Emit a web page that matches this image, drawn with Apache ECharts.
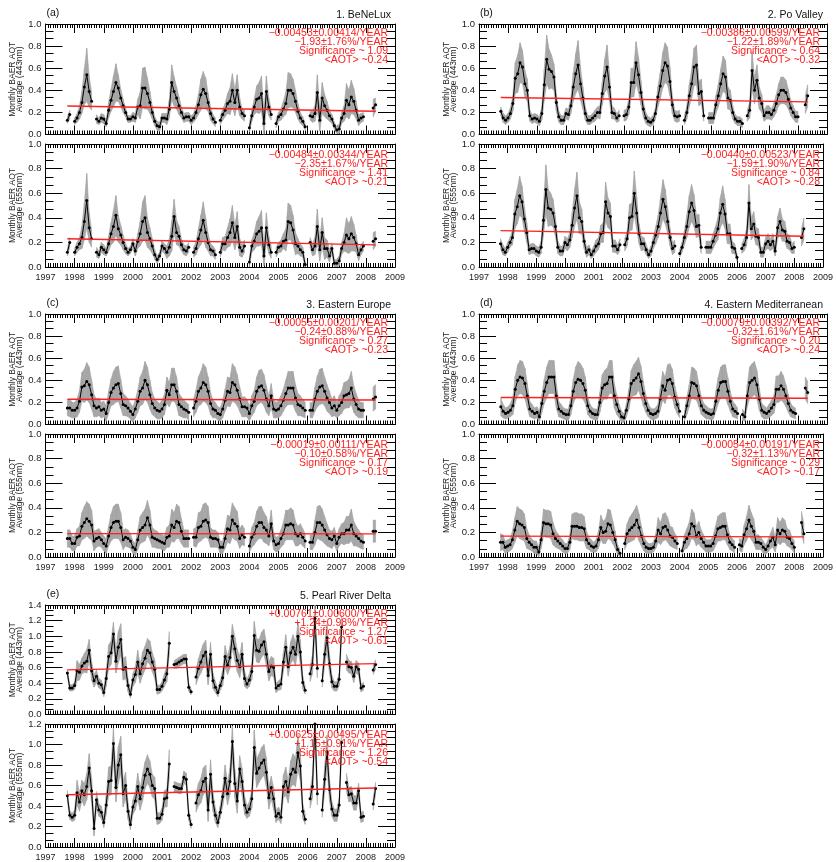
<!DOCTYPE html>
<html><head><meta charset="utf-8">
<script src="https://cdn.jsdelivr.net/npm/echarts/dist/echarts.min.js"></script>
<style>html,body{margin:0;padding:0;background:#fff}#c{width:836px;height:862px}</style>
</head><body><div id="c"></div>
<script>
const n = null;
// record: monthly, Oct 1997 .. May 2008 (128 months)
const firstYear = 1997, firstMonth = 10;
const axisYears = [1997, 2009];

// ---------- 1. BeNeLux ----------
const benelux443 = [
 .13,.18,n,
 .12,.15,.20,.29,.43,.54,.39,.30,n,.14,.12,.15,
 .14,.10,.22,.31,.39,.47,.42,.33,.26,.20,.14,.14,
 .16,.15,.25,.26,.42,.42,.37,.29,.20,.12,.08,.07,
 .15,.15,.14,.23,.47,.39,.33,.26,.20,.15,.16,.16,
 .13,.15,.20,.27,.36,.41,.37,.29,.19,.14,.11,n,
 .13,.18,.22,.28,.30,.40,.29,.40,.25,.19,.17,n,
 .06,.17,.25,.32,.33,.37,.10,.39,.25,.18,n,.10,
 .16,.18,.23,.28,.40,.40,.37,.30,.21,.15,.12,.07,
 n,.17,.16,.19,.38,.13,.33,.26,.22,.17,.14,.08,
 .04,.05,.15,.19,.31,.27,.34,.30,.22,.13,.15,.16,
 n,n,n,.24,.27];
const beneluxStd443 = [
 .03,.04,n,
 .03,.04,.06,.10,.16,.24,.14,.08,n,.04,.03,.04,
 .04,.03,.07,.10,.14,.17,.12,.08,.06,.04,.03,.03,
 .04,.04,.07,.12,.18,.19,.14,.10,.06,.04,.04,.04,
 .04,.04,.05,.08,.16,.13,.10,.08,.05,.04,.04,.04,
 .04,.04,.06,.09,.14,.16,.14,.08,.06,.04,.04,n,
 .04,.05,.06,.09,.12,.15,.12,.14,.08,.05,.05,n,
 .04,.05,.07,.12,.14,.16,.10,.14,.08,.05,n,.04,
 .04,.05,.07,.10,.16,.15,.13,.10,.07,.05,.04,.03,
 n,.04,.05,.07,.16,.10,.14,.10,.08,.05,.04,.03,
 .03,.04,.05,.07,.15,.13,.15,.12,.08,.05,.04,.04,
 n,n,n,.08,.06];
const benelux555 = [
 .12,.20,n,
 .12,.16,.19,.24,.37,.54,.32,.23,n,.12,.10,.16,
 .14,.12,.19,.27,.33,.42,.31,.26,.20,.15,.12,.14,
 .19,.13,.21,.27,.37,.40,.28,.23,.17,.10,.06,.09,
 .17,.15,.12,.16,.25,.41,.28,.25,.18,.14,.13,.16,
 n,.12,.15,.23,.30,.38,.28,.20,.14,.13,.10,n,
 .12,.19,.19,.24,.28,.36,.24,.33,.16,.13,.17,n,
 .04,.17,.21,.27,.29,.32,.09,.32,.18,.12,n,.12,
 .16,.17,.21,.22,.37,.36,.30,.19,.17,.14,.12,.02,
 n,.20,.14,.17,.33,.14,.28,.15,.15,.09,.15,.03,
 .03,.05,.15,.20,.26,.23,.27,.24,.19,.10,.14,.17,
 n,n,n,.21,.23];
const beneluxStd555 = [
 .03,.04,n,
 .03,.04,.05,.09,.15,.22,.12,.07,n,.04,.03,.04,
 .04,.03,.06,.09,.13,.16,.11,.08,.06,.04,.03,.03,
 .04,.04,.06,.10,.16,.18,.12,.09,.06,.04,.03,.03,
 .04,.04,.05,.07,.12,.14,.10,.08,.05,.04,.04,.04,
 n,.04,.05,.08,.12,.15,.12,.07,.05,.04,.04,n,
 .04,.05,.06,.08,.11,.14,.10,.12,.07,.05,.05,n,
 .04,.05,.07,.10,.12,.14,.08,.12,.07,.05,n,.04,
 .04,.05,.06,.09,.15,.14,.12,.09,.06,.05,.04,.03,
 n,.04,.05,.07,.14,.09,.12,.09,.07,.05,.04,.03,
 .03,.04,.05,.07,.14,.12,.14,.11,.07,.05,.04,.04,
 n,n,n,.07,.06];

// ---------- 2. Po Valley ----------
const po443 = [
 .21,.15,.13,
 .15,.19,.28,.51,.55,.65,.61,.46,.40,.17,.14,.15,
 .14,.12,.19,.45,.68,.59,.57,.52,.29,.16,.13,.13,
 .19,.18,.26,.43,.55,.63,.46,.33,.19,.13,.13,.15,
 .17,.20,.20,.37,.53,.61,.43,.20,.19,.15,.17,n,
 .17,.18,.25,.47,.47,.65,.54,.38,.23,.15,.12,.11,
 .13,.19,.34,.44,.58,.65,.62,.48,.27,.17,.16,.17,
 n,.13,.20,.35,.46,.61,.63,.37,.39,.17,n,.15,
 .15,.15,.27,.35,.46,.55,.52,.33,.31,.20,.14,.12,
 .12,.10,n,.17,.22,.58,.40,.49,.33,.28,.17,.20,
 .20,.18,.22,.28,.36,.40,.40,.38,.32,.24,.20,.16,
 .16,n,n,.27,.35];
const poStd443 = [
 .04,.04,.04,
 .04,.05,.07,.14,.17,.18,.15,.12,.10,.05,.04,.04,
 .04,.04,.06,.14,.22,.18,.15,.12,.08,.05,.04,.04,
 .05,.05,.07,.13,.18,.22,.15,.10,.06,.04,.04,.04,
 .05,.05,.06,.10,.15,.20,.13,.06,.05,.04,.05,n,
 .05,.05,.07,.13,.13,.19,.16,.11,.07,.05,.04,.04,
 .04,.05,.09,.12,.16,.18,.17,.13,.08,.05,.05,.05,
 n,.04,.06,.10,.13,.17,.18,.11,.11,.05,n,.05,
 .05,.05,.08,.10,.13,.16,.15,.10,.09,.06,.04,.04,
 .04,.04,n,.05,.07,.17,.12,.14,.10,.08,.05,.06,
 .06,.05,.06,.08,.10,.12,.12,.11,.09,.07,.06,.05,
 .05,n,n,.08,.10];
const po555 = [
 .19,.14,.12,
 .16,.20,.24,.43,.49,.58,.53,.39,.28,.14,.15,.15,
 .13,.12,.16,.38,.63,.48,.47,.44,.33,.16,.13,.13,
 .20,.18,.22,.34,.48,.58,.40,.37,.21,.12,.14,.10,
 .13,.17,.19,.27,.28,.53,.44,.41,.17,.17,.14,.18,
 n,.18,.23,.40,.41,.60,.44,.27,.19,.19,.14,.10,
 .13,.20,.26,.33,.44,.55,.49,.37,.24,.15,.17,n,
 .11,.16,.24,.33,.45,.52,.46,.33,.34,.16,n,.16,
 .16,.16,.21,.26,.31,.44,.51,.43,.27,.27,.16,.15,
 .08,n,.15,.18,.24,.52,.31,.35,.25,.24,.12,.12,
 .19,.21,.18,.21,.13,.32,.37,.30,.29,.21,.20,.15,
 .16,n,n,.24,.31];
const poStd555 = [
 .04,.04,.03,
 .04,.04,.06,.12,.14,.16,.13,.10,.08,.04,.04,.04,
 .04,.04,.05,.12,.20,.15,.13,.11,.08,.05,.04,.04,
 .05,.05,.06,.10,.15,.19,.13,.10,.06,.04,.04,.03,
 .04,.05,.05,.07,.08,.16,.12,.11,.05,.05,.04,.05,
 n,.05,.06,.11,.11,.18,.13,.08,.06,.05,.04,.03,
 .04,.05,.07,.09,.13,.16,.14,.10,.07,.05,.05,n,
 .03,.04,.06,.09,.13,.15,.13,.09,.09,.05,n,.05,
 .05,.05,.06,.07,.09,.12,.15,.12,.08,.08,.05,.04,
 .03,n,.04,.05,.07,.15,.09,.10,.07,.07,.04,.04,
 .05,.06,.05,.06,.04,.09,.11,.09,.08,.06,.06,.04,
 .05,n,n,.07,.09];

// ---------- 3. Eastern Europe ----------
const eeur443 = [
 .15,.15,.13,
 .13,.15,.21,.34,.35,.39,.36,.27,.17,.15,.16,.13,
 .14,.10,.20,.29,.33,.36,.37,.28,.18,.17,.15,.12,
 .09,.14,.21,.30,.33,.40,.36,.27,.19,.15,.13,.12,
 .14,.18,.31,.27,.36,.36,.30,.18,.16,.14,.13,.11,
 n,.15,.21,.30,.33,.38,.36,.30,.19,.14,.13,.10,
 .09,.14,.22,.30,.29,.38,.36,.31,.23,.16,.16,.15,
 .10,.17,.21,.30,.34,.35,.31,.23,.17,.26,.14,.13,
 .14,.17,.22,.28,.33,.33,.33,.24,.18,.17,.15,.13,
 n,.13,.13,.23,.30,.34,.35,.30,.24,.20,.15,.17,
 .13,.17,.20,.26,.27,.28,.33,.23,.18,.14,.13,.13,
 n,n,n,.23,.25];
const eeurStd443 = [
 .07,.08,.07,
 .07,.08,.10,.13,.15,.17,.16,.13,.10,.08,.08,.07,
 .07,.07,.10,.12,.15,.16,.16,.13,.10,.09,.08,.07,
 .07,.08,.10,.13,.15,.17,.16,.13,.10,.08,.08,.07,
 .08,.09,.12,.11,.15,.15,.13,.10,.09,.08,.07,.07,
 n,.08,.10,.13,.15,.17,.16,.13,.10,.08,.07,.06,
 .06,.08,.10,.13,.13,.17,.16,.14,.11,.09,.09,.08,
 .07,.09,.10,.13,.15,.15,.14,.12,.09,.11,.08,.07,
 .08,.09,.10,.12,.15,.15,.15,.12,.10,.09,.08,.07,
 n,.07,.07,.11,.14,.16,.16,.13,.12,.10,.08,.09,
 .07,.09,.10,.12,.12,.13,.15,.12,.10,.08,.07,.07,
 n,n,n,.11,.11];
const eeur555 = [
 .15,.15,.11,
 .11,.16,.17,.25,.28,.31,.29,.26,.13,.15,.16,.14,
 .11,.09,.17,.24,.28,.29,.29,.24,.14,.16,.15,.13,
 .08,.06,.14,.22,.24,.26,.32,.26,.16,.15,.14,.13,
 .12,.11,.16,.17,.26,.24,.29,.28,.21,.15,.15,.15,
 n,.16,.16,.24,.25,.29,.30,.28,.16,.15,.15,.14,
 .08,.08,.15,.23,.22,.30,.27,.25,.15,.18,.16,n,
 .09,.16,.19,.25,.28,.28,.24,.22,.17,.27,.13,.10,
 .11,.15,.19,.26,.26,.27,.26,.19,.17,.19,.16,.13,
 n,.12,.12,.20,.28,.28,.26,.22,.18,.15,.14,.17,
 .11,.16,.19,.19,.22,.22,.26,.19,.17,.15,.13,.12,
 n,n,n,.21,.21];
const eeurStd555 = [
 .07,.07,.06,
 .06,.07,.08,.11,.13,.14,.14,.12,.08,.07,.07,.06,
 .06,.06,.08,.11,.13,.14,.14,.12,.08,.07,.07,.06,
 .05,.05,.08,.11,.12,.13,.14,.12,.08,.07,.07,.06,
 .06,.06,.08,.09,.13,.12,.14,.13,.10,.07,.07,.07,
 n,.07,.08,.12,.12,.14,.14,.13,.08,.07,.07,.06,
 .05,.05,.08,.11,.11,.14,.13,.12,.08,.08,.07,n,
 .05,.08,.09,.12,.13,.13,.12,.11,.08,.11,.07,.06,
 .06,.07,.09,.12,.12,.13,.12,.10,.08,.08,.07,.06,
 n,.06,.06,.10,.13,.14,.13,.11,.09,.07,.07,.07,
 .06,.07,.08,.09,.11,.11,.13,.10,.08,.07,.06,.06,
 n,n,n,.09,.09];

// ---------- 4. Eastern Mediterranean ----------
const emed443 = [
 .16,.12,.10,
 .11,.13,.17,.32,.40,.43,.42,.37,.26,.14,.12,.10,
 .11,.07,.19,.30,.38,.43,.43,.43,.26,.14,.12,.10,
 .09,.09,.17,.30,.38,.41,.40,.37,.31,.17,.12,.10,
 .09,.09,.20,.33,.36,.37,.43,.43,.26,.18,.12,.07,
 .06,.13,.23,.37,.40,.42,.46,.39,.28,.19,.13,.10,
 .09,.10,.12,.23,.35,.31,.40,.41,.37,.25,.18,.12,
 n,.07,.17,.26,.38,.37,.35,.26,.17,.13,.11,.10,
 .09,.10,.21,.31,.38,.39,.39,.30,.21,.14,.12,.10,
 n,.09,.07,.26,.38,.40,.42,.36,.23,.13,.11,.10,
 .12,.15,.18,.32,.32,.35,.32,.26,.19,.13,.11,.10,
 n,n,n,.33,.29];
const emedStd443 = [
 .08,.06,.05,
 .05,.06,.08,.12,.14,.15,.15,.14,.11,.07,.06,.05,
 .05,.05,.08,.11,.14,.15,.15,.15,.11,.07,.06,.05,
 .05,.05,.08,.11,.14,.16,.15,.14,.12,.08,.06,.05,
 .05,.05,.09,.12,.13,.14,.15,.15,.11,.09,.06,.05,
 .04,.06,.09,.12,.14,.15,.15,.14,.11,.08,.06,.05,
 .05,.05,.06,.10,.13,.12,.14,.14,.13,.10,.08,.06,
 n,.04,.08,.10,.14,.14,.13,.10,.08,.06,.06,.05,
 .05,.05,.09,.12,.14,.15,.15,.12,.09,.07,.06,.05,
 n,.05,.04,.10,.14,.15,.15,.13,.10,.06,.06,.05,
 .06,.07,.08,.12,.12,.13,.12,.10,.08,.06,.05,.05,
 n,n,n,.10,.10];
const emed555 = [
 .12,.12,.08,
 .09,.10,.14,.22,.29,.27,.26,.24,.15,.12,.10,.08,
 .08,.04,.14,.28,.27,.27,.26,.19,.15,.13,.11,.09,
 .07,.07,.12,.25,.25,.25,.24,.24,.23,.14,.11,.09,
 .08,.09,.14,.24,.20,.21,.27,.26,.20,.14,.06,.03,
 n,.11,.19,.22,.24,.26,.30,.24,.17,.11,.08,.07,
 .07,.08,.13,.22,.19,.24,.25,.22,.17,.16,.13,.11,
 n,.05,.12,.15,.19,.27,.25,.17,.20,.15,.12,.09,
 .09,.09,.11,.17,.23,.24,.25,.25,.18,.12,.10,.08,
 n,.10,.09,.18,.23,.30,.25,.21,.12,.12,.11,.08,
 .06,.09,.13,.16,.10,.22,.19,.22,.21,.16,.15,.11,
 .08,n,n,.28,.19];
const emedStd555 = [
 .07,.06,.05,
 .05,.05,.07,.10,.12,.12,.12,.11,.08,.06,.05,.05,
 .05,.04,.07,.11,.11,.11,.11,.09,.07,.06,.05,.05,
 .04,.04,.06,.10,.11,.11,.11,.11,.10,.07,.05,.05,
 .04,.05,.07,.10,.09,.10,.12,.12,.09,.07,.04,.03,
 n,.05,.08,.10,.11,.12,.12,.11,.08,.06,.05,.04,
 .04,.04,.06,.10,.09,.11,.11,.10,.08,.08,.06,.05,
 n,.03,.06,.08,.09,.12,.11,.08,.09,.07,.06,.05,
 .05,.05,.06,.08,.10,.11,.11,.11,.08,.06,.05,.05,
 n,.05,.05,.08,.10,.12,.11,.10,.06,.06,.05,.05,
 .04,.05,.06,.08,.06,.10,.09,.10,.09,.07,.07,.05,
 .05,n,n,.09,.08];

// ---------- 5. Pearl River Delta ----------
const prd443 = [
 .53,.34,.34,
 .37,.56,.54,.62,.66,.68,.82,.56,.43,.49,.40,.38,
 .28,.46,.74,.79,1.03,.68,.86,.96,.58,.60,.37,.26,
 .44,.51,.67,.52,.65,.72,.82,.79,.67,.58,.32,.32,
 .36,.44,.52,.91,n,.64,.65,.67,.69,.71,.71,.35,
 .29,n,.48,.59,.67,.75,.80,.50,.77,.43,.35,.28,
 .37,.47,.74,.63,.73,1.00,.84,.69,.61,.77,.46,.39,
 .44,.55,1.01,.82,.81,.89,.93,.77,.55,.62,.60,.34,
 .37,.39,.67,.86,.61,.79,.86,.77,1.00,.80,.41,.31,
 n,.52,.64,1.23,.59,n,.43,.77,.98,.65,.42,.36,
 .36,.45,1.12,n,.67,.61,.60,.49,.61,.58,.34,.36,
 n,n,n,.57,.64];
const prdStd443 = [
 .05,.04,.04,
 .05,.13,.10,.10,.12,.15,.14,.12,.08,.08,.06,.06,
 .05,.10,.15,.15,.15,.15,.20,.20,.14,.14,.08,.05,
 .08,.10,.15,.12,.15,.15,.15,.15,.12,.12,.06,.05,
 .06,.08,.10,.15,n,.05,.06,.06,.06,.06,.06,.05,
 .04,n,.10,.12,.14,.15,.15,.12,.15,.10,.07,.05,
 .06,.10,.14,.12,.14,.15,.15,.14,.14,.15,.10,.06,
 .08,.10,.18,.15,.15,.16,.16,.15,.12,.12,.12,.06,
 .06,.07,.12,.16,.12,.14,.16,.15,.18,.15,.08,.05,
 n,.10,.12,.18,.12,n,.08,.14,.17,.12,.08,.06,
 .06,.08,.15,n,.10,.08,.08,.08,.08,.08,.05,.05,
 n,n,n,.06,.06];
const prd555 = [
 .50,.31,.29,
 .31,.53,.44,.55,.51,.59,.77,.55,.18,.46,.36,.34,
 .24,.41,.64,.65,1.01,.58,.80,.90,.52,.60,.35,.22,
 .39,.45,.59,.47,.58,.70,.76,.71,.60,.57,.28,.28,
 .32,.47,.48,.81,n,.59,.58,.57,.57,.68,.66,.31,
 .22,n,.43,.51,.55,.64,.67,.36,.71,.44,.31,.24,
 .34,.49,.67,.52,.64,1.03,.62,.45,.76,.64,.41,.34,
 .37,.47,.97,.72,.77,.82,.85,.73,.48,.58,.47,.30,
 .33,.29,.59,.64,.54,.71,.76,.73,.92,.79,.35,.27,
 n,.47,.59,1.20,.52,n,.36,.66,.93,.56,.37,.31,
 .31,.41,1.02,n,.63,.51,.52,.43,.43,.55,.29,.30,
 n,n,n,.42,.57];
const prdStd555 = [
 .05,.04,.04,
 .05,.12,.09,.10,.11,.13,.14,.12,.07,.08,.06,.06,
 .05,.09,.14,.14,.15,.14,.18,.18,.13,.13,.08,.05,
 .07,.09,.13,.11,.13,.13,.14,.13,.11,.11,.06,.05,
 .06,.08,.09,.14,n,.05,.05,.05,.05,.06,.06,.05,
 .04,n,.09,.11,.12,.13,.13,.11,.14,.09,.07,.05,
 .06,.09,.13,.11,.13,.15,.14,.12,.13,.13,.09,.06,
 .07,.09,.17,.14,.14,.15,.15,.14,.11,.11,.11,.06,
 .06,.06,.11,.14,.11,.13,.15,.14,.17,.14,.07,.05,
 n,.09,.11,.16,.11,n,.07,.13,.16,.11,.07,.06,
 .06,.07,.14,n,.09,.07,.07,.07,.07,.07,.05,.05,
 n,n,n,.06,.06];

// trend line end values [first month, last month]
const trendBenelux443 = [0.258, 0.210], trendBenelux555 = [0.230, 0.180];
const trendPo443 = [0.335, 0.295], trendPo555 = [0.296, 0.250];
const trendEeur443 = [0.228, 0.222], trendEeur555 = [0.190, 0.188];
const trendEmed443 = [0.245, 0.237], trendEmed555 = [0.170, 0.164];
const trendPrd443 = [0.570, 0.650], trendPrd555 = [0.510, 0.576];

const textBenelux443 = ['\u22120.00453\u00b10.00414/YEAR','\u22121.93\u00b11.76%/YEAR','Significance ~ 1.09','<AOT> ~0.24'];
const textBenelux555 = ['\u22120.00484\u00b10.00344/YEAR','\u22122.35\u00b11.67%/YEAR','Significance ~ 1.41','<AOT> ~0.21'];
const textPo443 = ['\u22120.00386\u00b10.00599/YEAR','\u22121.22\u00b11.89%/YEAR','Significance ~ 0.64','<AOT> ~0.32'];
const textPo555 = ['\u22120.00440\u00b10.00523/YEAR','\u22121.59\u00b11.90%/YEAR','Significance ~ 0.84','<AOT> ~0.28'];
const textEeur443 = ['\u22120.00055\u00b10.00201/YEAR','\u22120.24\u00b10.88%/YEAR','Significance ~ 0.27','<AOT> ~0.23'];
const textEeur555 = ['\u22120.00019\u00b10.00111/YEAR','\u22120.10\u00b10.58%/YEAR','Significance ~ 0.17','<AOT> ~0.19'];
const textEmed443 = ['\u22120.00079\u00b10.00392/YEAR','\u22120.32\u00b11.61%/YEAR','Significance ~ 0.20','<AOT> ~0.24'];
const textEmed555 = ['\u22120.00054\u00b10.00191/YEAR','\u22120.32\u00b11.13%/YEAR','Significance ~ 0.29','<AOT> ~0.17'];
const textPrd443 = ['+0.00761\u00b10.00600/YEAR','+1.24\u00b10.98%/YEAR','Significance ~ 1.27','<AOT> ~0.61'];
const textPrd555 = ['+0.00625\u00b10.00495/YEAR','+1.15\u00b10.91%/YEAR','Significance ~ 1.26','<AOT> ~0.54'];

const regionTitles = ['1. BeNeLux','2. Po Valley','3. Eastern Europe','4. Eastern Mediterranean','5. Pearl River Delta'];
const panelLetters = ['(a)','(b)','(c)','(d)','(e)'];
const yName443 = 'Monthly BAER AOT\nAverage (443nm)';
const yName555 = 'Monthly BAER AOT\nAverage (555nm)';

// ---------- layout ----------
const cols = [{left:45.5, width:349.5}, {left:479, width:348}];
const rows = [{top1:24, h1:110.5, top2:144, h2:123}, {top1:314, h1:110.5, top2:434, h2:123}, {top1:605, h1:109.5, top2:724, h2:123}];
const panels = [
 {r:0,c:0,region:0,band:'443',vals:benelux443,std:beneluxStd443,trend:trendBenelux443,text:textBenelux443,ymax:1.0},
 {r:0,c:0,region:0,band:'555',vals:benelux555,std:beneluxStd555,trend:trendBenelux555,text:textBenelux555,ymax:1.0},
 {r:0,c:1,region:1,band:'443',vals:po443,std:poStd443,trend:trendPo443,text:textPo443,ymax:1.0},
 {r:0,c:1,region:1,band:'555',vals:po555,std:poStd555,trend:trendPo555,text:textPo555,ymax:1.0},
 {r:1,c:0,region:2,band:'443',vals:eeur443,std:eeurStd443,trend:trendEeur443,text:textEeur443,ymax:1.0},
 {r:1,c:0,region:2,band:'555',vals:eeur555,std:eeurStd555,trend:trendEeur555,text:textEeur555,ymax:1.0},
 {r:1,c:1,region:3,band:'443',vals:emed443,std:emedStd443,trend:trendEmed443,text:textEmed443,ymax:1.0},
 {r:1,c:1,region:3,band:'555',vals:emed555,std:emedStd555,trend:trendEmed555,text:textEmed555,ymax:1.0},
 {r:2,c:0,region:4,band:'443',vals:prd443,std:prdStd443,trend:trendPrd443,text:textPrd443,ymax:1.4},
 {r:2,c:0,region:4,band:'555',vals:prd555,std:prdStd555,trend:trendPrd555,text:textPrd555,ymax:1.2}
];

const FONT = '"Liberation Sans", Arial, Helvetica, sans-serif';
const BAND = '#a6a6a6';
const monthX = k => firstYear + (firstMonth - 1 + k) / 12;

function bandItem(renderParams, api) {
  const x0 = api.value(0), lo0 = api.value(1), hi0 = api.value(2);
  const x1 = api.value(3), lo1 = api.value(4), hi1 = api.value(5);
  if ([x0, lo0, hi0, x1, lo1, hi1].some(v => v == null || isNaN(v))) return null;
  const pts = [api.coord([x0, lo0]), api.coord([x1, lo1]), api.coord([x1, hi1]), api.coord([x0, hi0])];
  return {type:'polygon', shape:{points:pts}, style:{fill:BAND, stroke:BAND, lineWidth:0.6}};
}

const option = {animation:false, backgroundColor:'#fff', grid:[], xAxis:[], yAxis:[], series:[], graphic:[]};

panels.forEach((p, i) => {
  const col = cols[p.c], row = rows[p.r];
  const isTop = p.band === '443';
  const top = isTop ? row.top1 : row.top2;
  const height = isTop ? row.h1 : row.h2;
  option.grid.push({left:col.left, top:top, width:col.width, height:height, containLabel:false});
  const tickStyle = {color:'#000', width:1};
  const xBase = {gridIndex:i, type:'value', min:axisYears[0], max:axisYears[1], interval:1,
    axisLine:{show:true, onZero:false, lineStyle:tickStyle},
    axisTick:{show:true, inside:true, length:9, lineStyle:tickStyle},
    minorTick:{show:true, splitNumber:12, length:4, lineStyle:tickStyle},
    splitLine:{show:false}, minorSplitLine:{show:false}};
  option.xAxis.push(Object.assign({}, xBase, {position:'bottom',
    axisLabel:{show:!isTop, fontSize:9, color:'#222', fontFamily:FONT, margin:6, showMinLabel:true, showMaxLabel:true, formatter:v=>String(v)}}));
  option.xAxis.push(Object.assign({}, xBase, {position:'top', axisLabel:{show:false}}));
  const yBase = {gridIndex:i, type:'value', min:0, max:p.ymax, interval:0.2,
    axisLine:{show:true, onZero:false, lineStyle:tickStyle},
    axisTick:{show:true, inside:true, length:17, lineStyle:tickStyle},
    minorTick:{show:true, splitNumber:3, length:8, lineStyle:tickStyle},
    splitLine:{show:false}, minorSplitLine:{show:false}};
  option.yAxis.push(Object.assign({}, yBase, {position:'left',
    axisLabel:{show:true, fontSize:9.5, color:'#222', fontFamily:FONT, margin:4, showMinLabel:true, showMaxLabel:true, formatter:v=>v.toFixed(1)},
    name: isTop ? yName443 : yName555, nameLocation:'middle', nameRotate:90, nameGap:20,
    nameTextStyle:{fontSize:8.5, lineHeight:7, color:'#222', fontFamily:FONT}}));
  option.yAxis.push(Object.assign({}, yBase, {position:'right', axisLabel:{show:false}}));

  const xi = 2*i, yi = 2*i;
  const ok = k => k < p.vals.length && p.vals[k] != null && p.std[k] != null;
  const bandData = p.vals.map((v, k) => {
    if (!ok(k) || !ok(k+1)) return [monthX(k), '-', '-', monthX(k+1), '-', '-'];
    return [monthX(k), v - p.std[k], v + p.std[k], monthX(k+1), p.vals[k+1] - p.std[k+1], p.vals[k+1] + p.std[k+1]];
  });
  option.series.push({type:'custom', xAxisIndex:xi, yAxisIndex:yi, data:bandData, renderItem:bandItem,
    clip:true, silent:true, z:1, dimensions:['x0','lo0','hi0','x1','lo1','hi1'],
    encode:{x:[0,3], y:[1,2,4,5]}});
  const pts = p.vals.map((v,k)=> [monthX(k), v==null ? '-' : v]);
  option.series.push({type:'line', xAxisIndex:xi, yAxisIndex:yi, data:pts, symbol:'circle', symbolSize:3,
    itemStyle:{color:'#000'}, lineStyle:{color:'#000', width:1}, silent:true, z:3, connectNulls:false});
  const lastK = p.vals.length - 1;
  option.series.push({type:'line', xAxisIndex:xi, yAxisIndex:yi,
    data:[[monthX(0), p.trend[0]], [monthX(lastK), p.trend[1]]], symbol:'none',
    lineStyle:{color:'#ff2020', width:1.4}, silent:true, z:4});

  // red annotations
  const right = col.left + col.width;
  p.text.forEach((t, j) => {
    option.graphic.push({type:'text', x:right - 7, y: top + (isTop ? 9.5 : 11.5) + j*8.8, z:10,
      style:{text:t, fill:'#ff2020', font:'10.5px ' + FONT, textAlign:'right', textVerticalAlign:'middle'}});
  });
  if (isTop) {
    option.graphic.push({type:'text', x:col.left + 1, y: top - 11, z:10,
      style:{text:panelLetters[p.region], fill:'#111', font:'10.5px ' + FONT, textAlign:'left', textVerticalAlign:'middle'}});
    option.graphic.push({type:'text', x:right - 4, y: top - 9, z:10,
      style:{text:regionTitles[p.region], fill:'#111', font:'10.5px ' + FONT, textAlign:'right', textVerticalAlign:'middle'}});
  }
});

const chart = echarts.init(document.getElementById('c'), null, {renderer:'canvas'});
chart.setOption(option);
</script></body></html>
